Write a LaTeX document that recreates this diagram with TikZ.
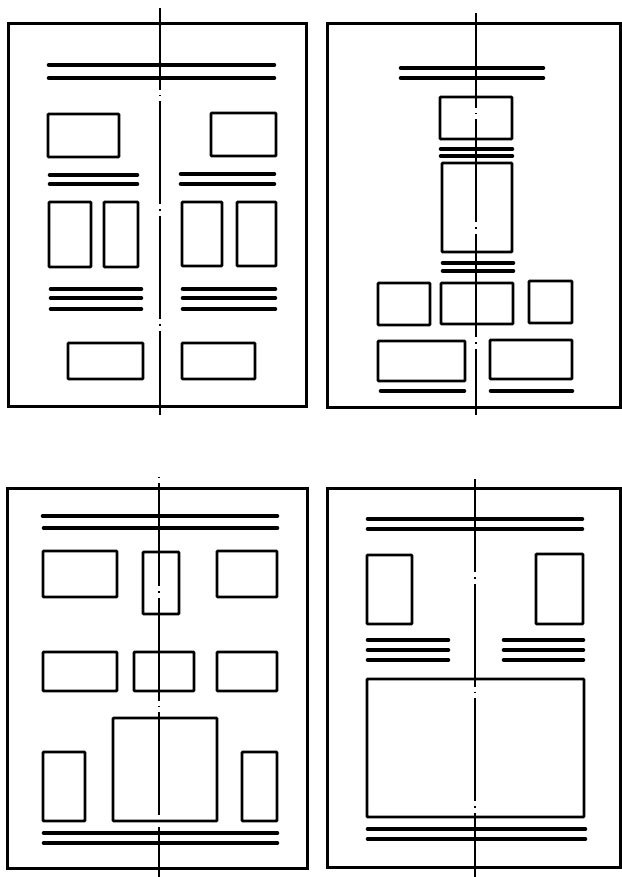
\documentclass[tikz,border=0pt]{standalone}
\begin{document}
\begin{tikzpicture}[x=1pt,y=-1pt,
  frame/.style={line width=3pt},
  box/.style={line width=2.8pt,rounded corners=0.8pt},
  bar/.style={line width=4.6pt,line cap=round},
  axis/.style={line width=1.7pt,dash pattern=on 103pt off 5pt on 1.5pt off 5pt}]
\useasboundingbox[fill=white] (0,0) rectangle (621,877);
% ---------- panel 1 ----------
\draw[frame] (8,24) rectangle (306,406);
\draw[bar] (49,65) -- (274,65); \draw[bar] (49,78) -- (274,78);
\draw[box] (48,114) rectangle (119,157);
\draw[box] (211,113) rectangle (276,156);
\draw[bar] (50,175) -- (137,175); \draw[bar] (50,184) -- (137,184);
\draw[bar] (181,174) -- (274,174); \draw[bar] (181,184) -- (274,184);
\draw[box] (49,202) rectangle (91,267);
\draw[box] (104,202) rectangle (138,267);
\draw[box] (182,202) rectangle (222,266);
\draw[box] (237,202) rectangle (276,266);
\draw[bar] (51,289) -- (141,289); \draw[bar] (51,298) -- (141,298); \draw[bar] (51,309) -- (141,309);
\draw[bar] (183,289) -- (275,289); \draw[bar] (183,298) -- (275,298); \draw[bar] (183,309) -- (275,309);
\draw[box] (68,343) rectangle (143,379);
\draw[box] (182,343) rectangle (255,379);
\draw[axis,dash phase=21pt] (160,8) -- (160,415);
% ---------- panel 2 ----------
\draw[frame] (327,24) rectangle (620,407);
\draw[bar] (401,68) -- (543,68); \draw[bar] (401,78) -- (543,78);
\draw[box] (440,97) rectangle (512,139);
\draw[bar] (441,149) -- (512,149); \draw[bar] (441,156) -- (512,156);
\draw[box] (442,163) rectangle (512,252);
\draw[bar] (443,263) -- (513,263); \draw[bar] (443,271) -- (513,271);
\draw[box] (378,283) rectangle (430,325);
\draw[box] (441,283) rectangle (513,324);
\draw[box] (529,281) rectangle (572,323);
\draw[box] (378,341) rectangle (465,381);
\draw[box] (490,340) rectangle (572,379);
\draw[bar] (381,391) -- (464,391);
\draw[bar] (491,391) -- (572,391);
\draw[axis,dash phase=8pt] (476,13) -- (476,415);
% ---------- panel 3 ----------
\draw[frame] (7,488) rectangle (307,868);
\draw[bar] (43,516) -- (277,516); \draw[bar] (44,528) -- (277,528);
\draw[box] (43,551) rectangle (117,597);
\draw[box] (143,552) rectangle (179,614);
\draw[box] (217,551) rectangle (277,597);
\draw[box] (43,652) rectangle (117,691);
\draw[box] (134,652) rectangle (194,691);
\draw[box] (217,652) rectangle (277,691);
\draw[box] (113,718) rectangle (217,821);
\draw[box] (43,752) rectangle (85,821);
\draw[box] (242,752) rectangle (277,821);
\draw[bar] (44,833) -- (277,833); \draw[bar] (44,843) -- (277,843);
\draw[axis,dash phase=-6pt] (159,477) -- (159,877);
% ---------- panel 4 ----------
\draw[frame] (327,488) rectangle (620,867);
\draw[bar] (368,519) -- (582,519); \draw[bar] (368,529) -- (582,529);
\draw[box] (367,555) rectangle (412,624);
\draw[box] (536,554) rectangle (583,624);
\draw[bar] (368,640) -- (448,640); \draw[bar] (368,650) -- (448,650); \draw[bar] (368,660) -- (448,660);
\draw[bar] (504,640) -- (583,640); \draw[bar] (504,650) -- (583,650); \draw[bar] (504,660) -- (583,660);
\draw[box] (367,679) rectangle (584,817);
\draw[bar] (368,829) -- (585,829); \draw[bar] (368,839) -- (585,839);
\draw[axis,dash phase=10pt] (475,479) -- (475,877);
\end{tikzpicture}
\end{document}
